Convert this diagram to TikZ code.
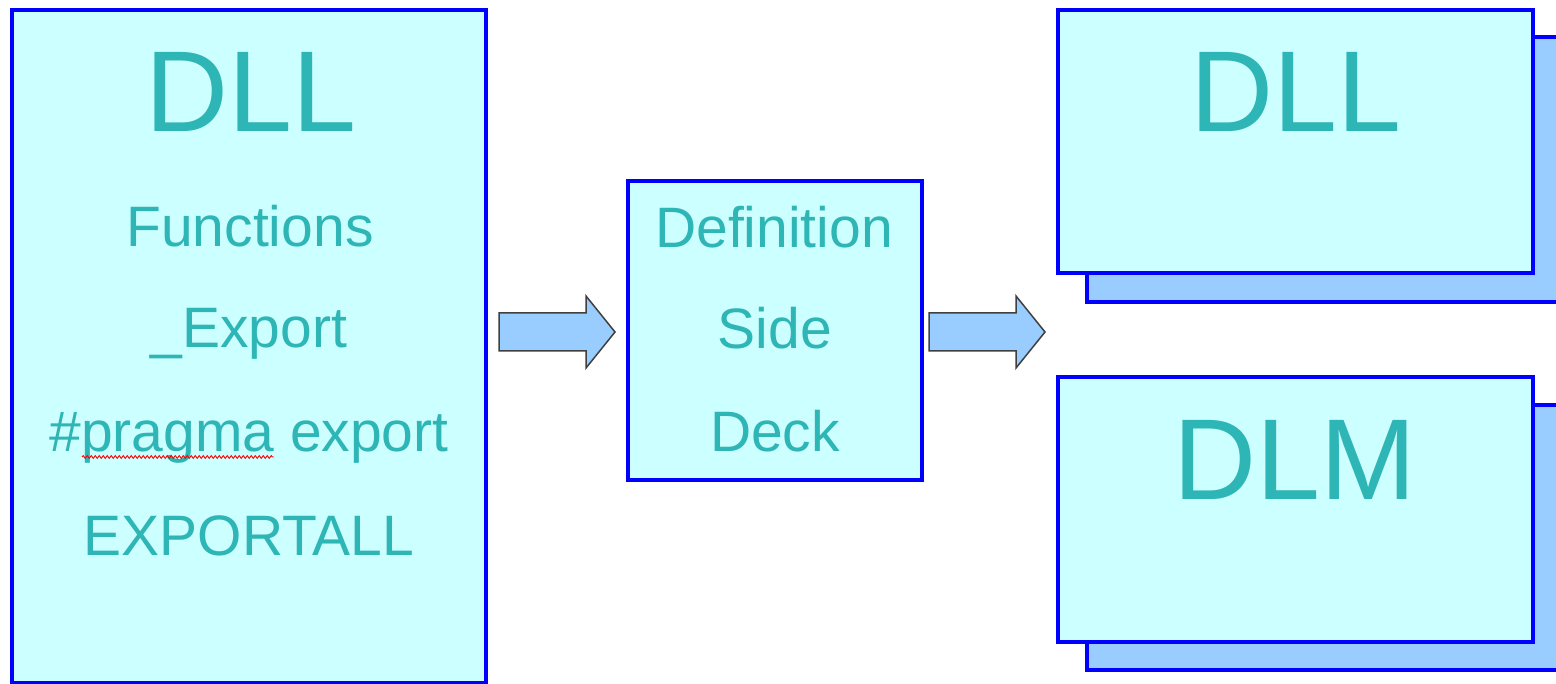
\documentclass[tikz,border=0pt]{standalone}
\usepackage{fontspec}
\setmainfont{Liberation Sans}
\usetikzlibrary{decorations.pathmorphing}
\definecolor{boxfill}{RGB}{204,255,255}
\definecolor{shadowfill}{RGB}{153,204,255}
\definecolor{txt}{RGB}{46,181,181}
\definecolor{edge}{RGB}{0,0,255}
\definecolor{arrowedge}{RGB}{64,64,64}
\begin{document}
\begin{tikzpicture}[x=1pt,y=-1pt,
  box/.style={draw=edge, line width=3.4pt, fill=boxfill, inner sep=0pt, outer sep=0pt, anchor=north west},
  shadowbox/.style={draw=edge, line width=3.4pt, fill=shadowfill, inner sep=0pt, outer sep=0pt, anchor=north west},
  blockarrow/.style={draw=arrowedge, line width=1.5pt, fill=shadowfill, line join=miter},
  big/.style={text=txt, font=\fontsize{115}{115}\selectfont, inner sep=0pt, anchor=base},
  small/.style={text=txt, font=\fontsize{57}{57}\selectfont, inner sep=0pt, anchor=base}]
\useasboundingbox (0,0) rectangle (1556,684);
\fill[white] (0,0) rectangle (1556,684);
% left box
\node[box, minimum width=474pt, minimum height=673pt] (dll) at (12,10) {};
\node[big] (dllt) at (251,132) {DLL};
\node[small] (fn) at (250,247) {Functions};
\node[small] (ex) at (249,348) {\_Export};
\node[small] (pr) at (249,451) {\#pragma export};
\node[small] (ea) at (249,555) {EXPORTALL};
\draw[red, line width=0.9pt, decorate, decoration={snake, amplitude=1.4pt, segment length=4pt}] (82,457) -- (274,457);
% middle box
\node[box, minimum width=294pt, minimum height=299pt] (defs) at (628,181) {};
\node[small] (d1) at (774,248) {Definition};
\node[small] (d2) at (775,349) {Side};
\node[small] (d3) at (775,452) {Deck};
% right top
\node[shadowbox, minimum width=520pt, minimum height=265pt] (dllsh) at (1087,37) {};
\node[box, minimum width=475pt, minimum height=263pt] (dllr) at (1058,10) {};
\node[big] (dllrt) at (1296,132) {DLL};
% right bottom
\node[shadowbox, minimum width=520pt, minimum height=265pt] (dlmsh) at (1087,405) {};
\node[box, minimum width=475pt, minimum height=265pt] (dlm) at (1058,377) {};
\node[big] (dlmt) at (1295,500) {DLM};
% block arrows
\draw[blockarrow] (499,313) -- (586,313) -- (586,296) -- (615,332) -- (586,368) -- (586,351) -- (499,351) -- cycle;
\draw[blockarrow] (929,313) -- (1016,313) -- (1016,296) -- (1045,332) -- (1016,368) -- (1016,351) -- (929,351) -- cycle;
\end{tikzpicture}
\end{document}
